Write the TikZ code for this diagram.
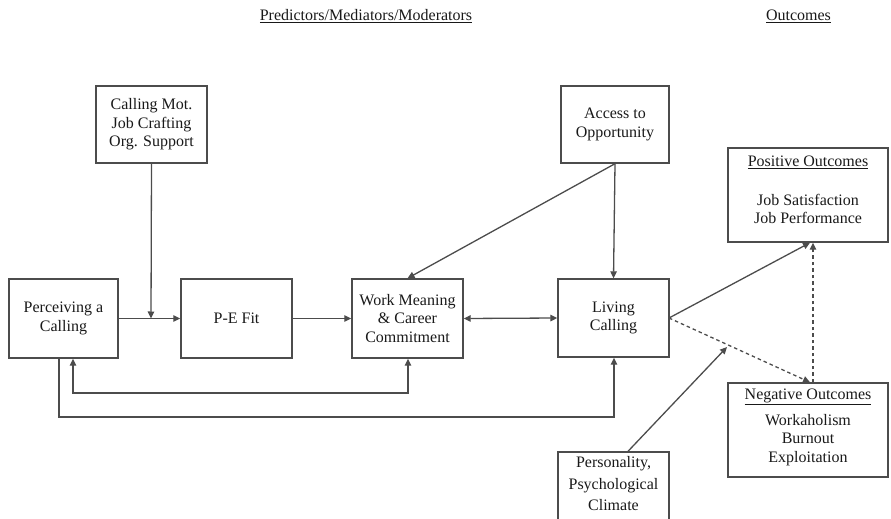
\documentclass[tikz,border=0pt]{standalone}
\usepackage{fontspec}
\setmainfont{Liberation Serif}
\usetikzlibrary{arrows.meta}
\begin{document}
\begin{tikzpicture}[x=1pt,y=-1pt,
  font=\fontsize{16}{18.5}\selectfont,
  box/.style={draw=black!70, line width=1.4pt, inner sep=0pt, align=center, text=black!90},
  txt/.style={inner sep=0pt, align=center, text=black!90},
  link/.style={draw=black!70, line width=1.3pt, -{Triangle[length=7pt,width=6.5pt]}},
  dlink/.style={link, dash pattern=on 3.5pt off 3pt}]
\useasboundingbox (0,0) rectangle (891,519);
\clip (0,0) rectangle (891,519);

% column headings
\node[txt] (hpred) at (366,16) {\underline{Predictors/Mediators/Moderators}};
\node[txt] (hout) at (798.5,16) {\underline{Outcomes}};

% boxes
\node[box, minimum width=111pt, minimum height=77pt] (calling) at (151.5,124.5) {Calling Mot.\\Job Crafting\\Org. Support};
\node[box, minimum width=108pt, minimum height=77pt] (access) at (615,124.5) {Access to\\Opportunity};
\node[box, minimum width=109pt, minimum height=79pt] (perc) at (63.5,318.5) {Perceiving a\\Calling};
\node[box, minimum width=111pt, minimum height=79pt] (pefit) at (236.5,318.5) {P-E Fit};
\node[box, minimum width=111pt, minimum height=79pt] (work) at (407.5,318.5) {Work Meaning\\\& Career\\Commitment};
\node[box, minimum width=111pt, minimum height=78pt] (living) at (613.5,318) {Living\\Calling};

\node[box, minimum width=160pt, minimum height=94pt] (pos) at (808,195) {};
\node[txt] (posh) at (808,162) {\underline{Positive Outcomes}};
\node[txt] (posl) at (808,209) {Job Satisfaction\\Job Performance};

\node[box, minimum width=160pt, minimum height=94pt] (neg) at (808,430) {};
\node[txt] (negh) at (808,397) {\underline{Negative Outcomes}};
\node[txt] (negl) at (808,440) {Workaholism\\Burnout\\Exploitation};

\node[box, minimum width=111pt, minimum height=100pt] (pers) at (613.5,502) {};
\node[txt] (persl) at (613.5,484) {Personality,\\[3pt]Psychological\\[3pt]Climate};

% junction points
\coordinate (mod) at (151,318.5);
\coordinate (lcout) at (669,318);
\coordinate (dashmid) at (727,347);

% main chain
\draw[link] (perc.east |- mod) -- (pefit.west |- mod);
\draw[link] (calling.south) -- (mod);
\draw[link] (pefit.east) -- (work.west);
\draw[link, {Triangle[length=7pt,width=6.5pt]}-{Triangle[length=7pt,width=6.5pt]}] (work.east) -- (living.west);

% access to opportunity
\draw[link] (access.south) -- (living.north);
\draw[link] (access.south) -- (work.north);

% feedback loops
\draw[link, {Triangle[length=7pt,width=6.5pt]}-{Triangle[length=7pt,width=6.5pt]}] (perc.south -| 73,0) -- (73,393) -- (408,393) -- (work.south -| 408,0);
\draw[link] (perc.south -| 59,0) -- (59,417) -- (614,417) -- (living.south -| 614,0);

% outcomes
\draw[link] (lcout) -- (pos.south -| 810,0);
\draw[dlink] (lcout) -- (neg.north -| 810,0);
\draw[dlink] (neg.north -| 813,0) -- (pos.south -| 813,0);

% moderator of the outcome paths
\draw[link] (pers.north -| 628,0) -- (dashmid);
\end{tikzpicture}
\end{document}
